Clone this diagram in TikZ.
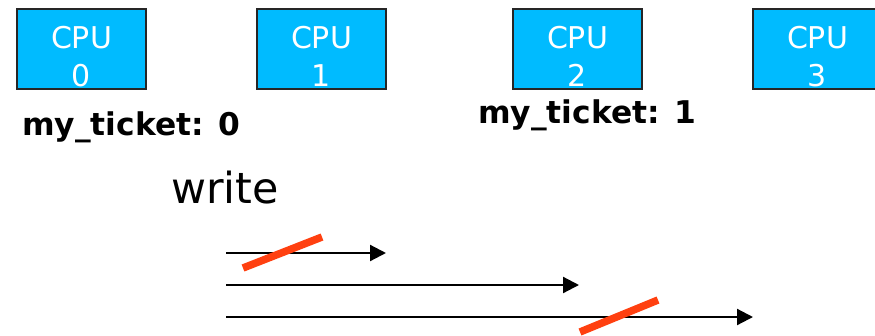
\documentclass[tikz,border=0pt]{standalone}
\usepackage{fontspec}
\setmainfont{DejaVu Sans}
\usetikzlibrary{arrows.meta}
\definecolor{cpublue}{HTML}{00BBFF}
\definecolor{slashred}{HTML}{FF4010}
\tikzset{
  cpubox/.style={draw=black!85, line width=1.5pt, fill=cpublue, minimum width=129pt, minimum height=80pt, inner sep=0pt, outer sep=0pt},
  cpulbl/.style={text=white, font=\fontsize{30}{36}\selectfont, inner sep=0pt, anchor=base},
  ticket/.style={font=\bfseries\fontsize{31.3}{36}\selectfont, inner sep=0pt, anchor=base west},
  timeline/.style={line width=2.2pt, -{Triangle[length=16pt,width=16pt]}},
  slash/.style={draw=slashred, line width=7.5pt}
}
\begin{document}
\begin{tikzpicture}[x=1pt,y=-1pt]
\useasboundingbox (0,0) rectangle (875,335);
\clip (0,0) rectangle (875,335);
% CPU boxes
\node[cpubox] (c0) at (81.5,49) {};
\node[cpubox] (c1) at (321.5,49) {};
\node[cpubox] (c2) at (577.5,49) {};
\node[cpubox] (c3) at (817.5,49) {};
\foreach \n/\x in {0/81.5,1/321.5,2/577.5,3/817.5}{
  \node[cpulbl] (cpu\n) at (\x,48) {CPU};
  \node[cpulbl] (num\n) at (\x,86) {\n};
}
% tickets
\node[ticket] (t0) at (22,135) {my\_ticket: 0};
\node[ticket] (t1) at (478,123) {my\_ticket: 1};
\node[font=\fontsize{42.8}{50}\selectfont, inner sep=0pt, anchor=base west] (w) at (171,203) {write};
% timelines
\coordinate (a1s) at (226,253); \coordinate (a1e) at (386,253);
\coordinate (a2s) at (226,285); \coordinate (a2e) at (579,285);
\coordinate (a3s) at (226,317); \coordinate (a3e) at (753,317);
\draw[timeline] (a1s) -- (a1e);
\draw[timeline] (a2s) -- (a2e);
\draw[timeline] (a3s) -- (a3e);
% slashes
\coordinate (s1a) at (243,268); \coordinate (s1b) at (322,237);
\coordinate (s2a) at (580,332); \coordinate (s2b) at (658,300);
\draw[slash] (s1a) -- (s1b);
\draw[slash] (s2a) -- (s2b);
\end{tikzpicture}
\end{document}
